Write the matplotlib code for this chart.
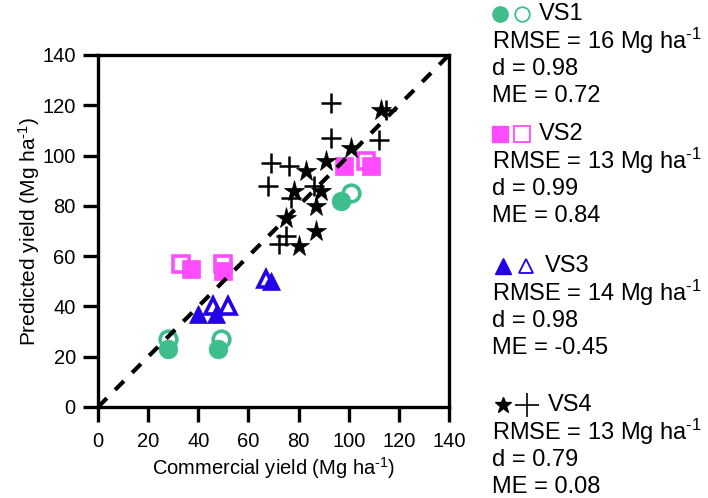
import matplotlib
matplotlib.use("Agg")
import matplotlib.pyplot as plt
from matplotlib.lines import Line2D

plt.rcParams['font.family'] = ['Liberation Sans', 'DejaVu Sans']
plt.rcParams['mathtext.fontset'] = 'custom'
plt.rcParams['mathtext.rm'] = 'Liberation Sans'
plt.rcParams['mathtext.it'] = 'Liberation Sans'
plt.rcParams['mathtext.default'] = 'regular'

# ---- data ----
vs1_filled_x = [28, 48, 97]
vs1_filled_y = [23, 23, 82]
vs1_open_x = [28, 49, 101]
vs1_open_y = [27, 27, 85]

vs2_filled_x = [37, 50, 98, 109]
vs2_filled_y = [55, 54, 96, 96]
vs2_open_x = [33, 50, 107]
vs2_open_y = [57, 57, 98]

vs3_filled_x = [40, 47, 69]
vs3_filled_y = [37, 37, 50]
vs3_open_x = [46, 52, 67]
vs3_open_y = [40, 40, 51]

vs4_filled_x = [113, 101, 91, 83, 78, 89, 87, 75, 87, 80]
vs4_filled_y = [118, 103, 98, 94, 86, 86, 80, 75, 70, 64]
vs4_open_x = [93, 115, 93, 112, 69, 76, 68, 77, 86, 75, 72]
vs4_open_y = [121, 118, 107, 106, 97, 96, 88, 83, 88, 68, 65]

one_to_one = [0, 140]
ticks = [0, 20, 40, 60, 80, 100, 120, 140]

series_names = ['VS1', 'VS2', 'VS3', 'VS4']
rmse = [16, 13, 14, 13]
d_vals = ['0.98', '0.99', '0.98', '0.79']
me_vals = ['0.72', '0.84', '-0.45', '0.08']

GREEN = '#3DBE8C'
MAGENTA = '#FF4CFF'
BLUE = '#2200E8'
BLACK = '#000000'

SUP = r'$^{\text{-1}}$'

fig = plt.figure(figsize=(7.08, 4.98), dpi=100)
ax = fig.add_axes([98/708, 1-407/498, 351/708, 352/498])

open_kw = dict(ls='none', mfc='white', mew=2.6, zorder=3)
fill_kw = dict(ls='none', zorder=4)

ax.plot(vs1_open_x, vs1_open_y, marker='o', ms=12, mec=GREEN, **open_kw)
ax.plot(vs1_filled_x, vs1_filled_y, marker='o', ms=13.5, mfc=GREEN, mec=GREEN, mew=0.5, **fill_kw)

ax.plot(vs2_open_x, vs2_open_y, marker='s', ms=11, mec=MAGENTA, **open_kw)
ax.plot(vs2_filled_x, vs2_filled_y, marker='s', ms=12.5, mfc=MAGENTA, mec=MAGENTA, mew=0.5, **fill_kw)

ax.plot(vs3_open_x, vs3_open_y, marker='^', ms=11.5, mec=BLUE, **open_kw)
ax.plot(vs3_filled_x, vs3_filled_y, marker='^', ms=13, mfc=BLUE, mec=BLUE, mew=0.5, **fill_kw)

ax.plot(vs4_open_x, vs4_open_y, marker='+', ms=15, mec=BLACK, mew=1.8, ls='none', zorder=3)
ax.plot(vs4_filled_x, vs4_filled_y, marker='*', ms=15.5, mfc=BLACK, mec=BLACK, mew=0.5, **fill_kw)

ax.plot(one_to_one, one_to_one, color='black', lw=3, ls=(0, (3.0, 2.8)),
        dash_capstyle='butt', zorder=5)

ax.set_xlim(0, 140)
ax.set_ylim(0, 140)
ax.set_xticks(ticks)
ax.set_yticks(ticks)
ax.tick_params(direction='out', length=10.5, width=2.4, labelsize=14.5)
ax.tick_params(axis='y', pad=5.5)
ax.tick_params(axis='x', pad=7.5)
for s in ax.spines.values():
    s.set_linewidth(2.4)
ax.set_xlabel('Commercial yield (Mg ha' + SUP + ')', fontsize=14.5, labelpad=3)
ax.set_ylabel('Predicted yield (Mg ha' + SUP + ')', fontsize=15, labelpad=0)

# ---- right-hand annotation block (pixel coordinates) ----
ov = fig.add_axes([0, 0, 1, 1])
ov.set_xlim(0, 708)
ov.set_ylim(498, 0)
ov.axis('off')
ov.patch.set_alpha(0)

header_y = [14, 134, 266, 405]
line_gap = 27.3
text_x = 492
FS = 17
header_x = [(500, 522, 539), (500, 522, 539), (503, 526, 545), (503, 527, 548)]
legend_markers = [
    (dict(marker='o', ms=11, mfc=GREEN, mec=GREEN), dict(marker='o', ms=10.5, mfc='white', mec=GREEN, mew=1.3)),
    (dict(marker='s', ms=12, mfc=MAGENTA, mec=MAGENTA), dict(marker='s', ms=11.5, mfc='white', mec=MAGENTA, mew=1.3)),
    (dict(marker='^', ms=11, mfc=BLUE, mec=BLUE), dict(marker='^', ms=10.5, mfc='white', mec=BLUE, mew=1.3)),
    (dict(marker='*', ms=12, mfc=BLACK, mec=BLACK), dict(marker='+', ms=17, mec=BLACK, mew=1.2)),
]
for i, name in enumerate(series_names):
    y0 = header_y[i]
    fk, ok = legend_markers[i]
    mx1, mx2, tx = header_x[i]
    ov.add_line(Line2D([mx1], [y0], ls='none', **fk))
    ov.add_line(Line2D([mx2], [y0], ls='none', **ok))
    ov.text(tx, y0, name, fontsize=FS, va='center', ha='left')
    ov.text(text_x, y0 + line_gap, f'RMSE = {rmse[i]} Mg ha' + SUP, fontsize=FS, va='center', ha='left')
    ov.text(text_x, y0 + 2*line_gap, f'd = {d_vals[i]}', fontsize=FS, va='center', ha='left')
    ov.text(text_x, y0 + 3*line_gap, f'ME = {me_vals[i]}', fontsize=FS, va='center', ha='left')

fig.savefig('out.png', dpi=100)
